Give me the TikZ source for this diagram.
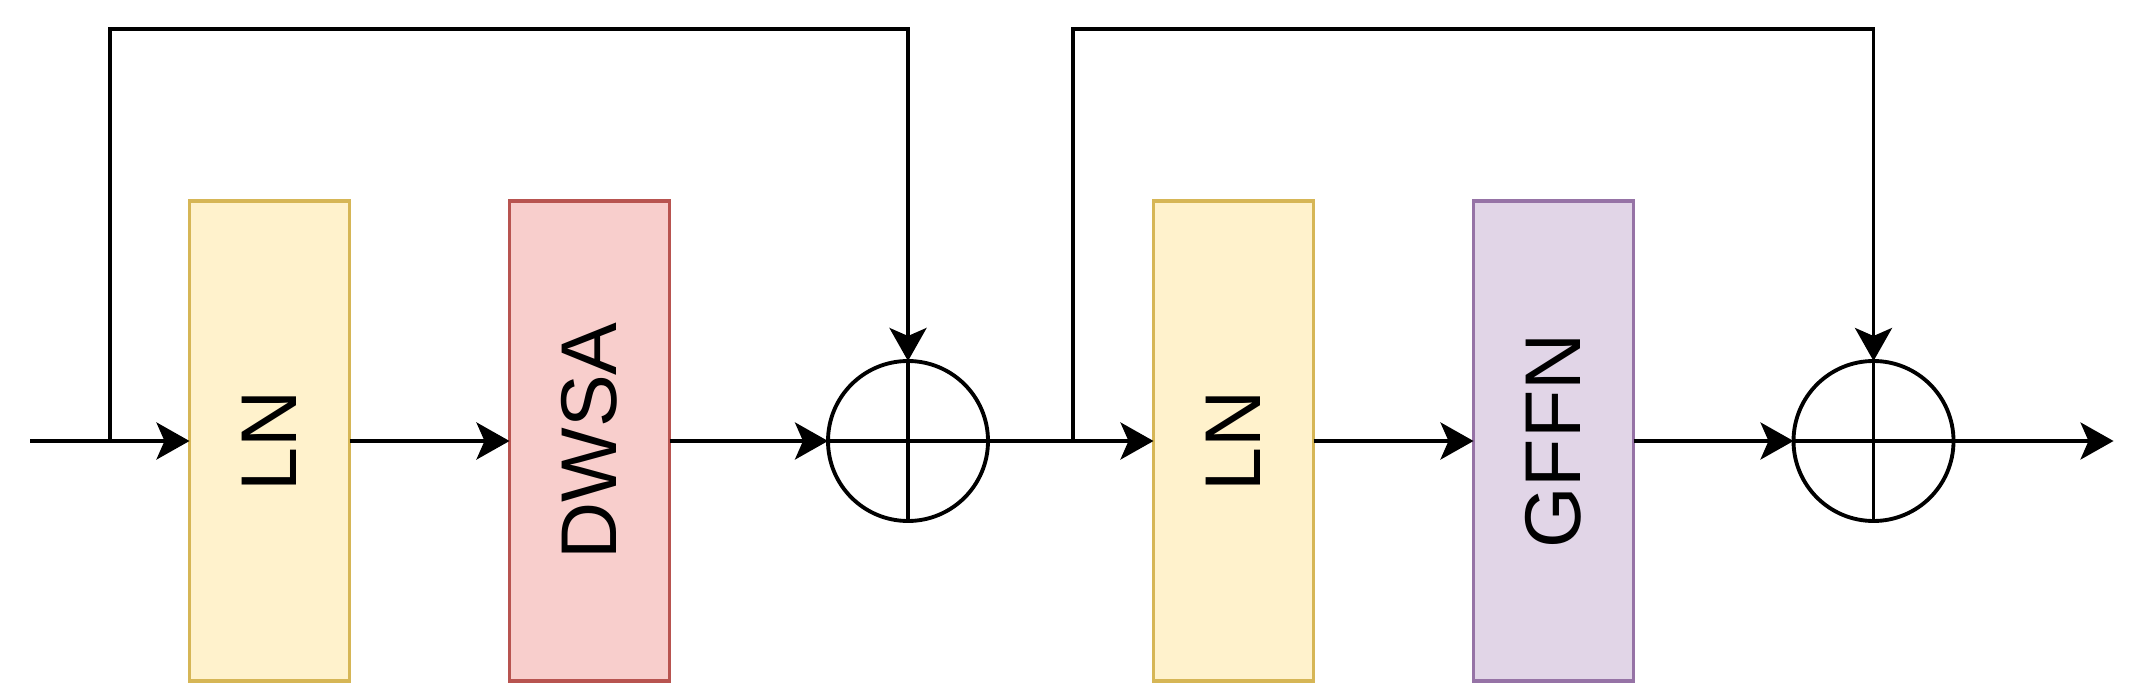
\documentclass[tikz,border=0pt]{standalone}
\usepackage{fontspec}
\setmainfont{Liberation Sans}
\usetikzlibrary{arrows.meta,positioning,calc}
\usepackage{xcolor}
\definecolor{lnfill}{HTML}{FFF2CC}
\definecolor{lnline}{HTML}{D6B656}
\definecolor{safill}{HTML}{F8CECC}
\definecolor{saline}{HTML}{B85450}
\definecolor{fnfill}{HTML}{E1D5E7}
\definecolor{fnline}{HTML}{9673A6}

\begin{document}
\begin{tikzpicture}[
  node distance=1.6cm,
  block/.style={rectangle, draw, line width=1.1pt, minimum width=1.6cm, minimum height=4.8cm, inner sep=0pt,
    outer sep=0pt, font=\fontsize{22.5}{27}\selectfont},
  addop/.style={circle, draw, line width=1.1pt, minimum size=1.6cm, inner sep=0pt, outer sep=0pt},
  arrow/.style={-{Stealth[length=0.33cm, width=0.37cm, inset=0.08cm]}, line width=1.1pt}
]
  \useasboundingbox (0,0) rectangle (21.48,6.84);
  \coordinate (in) at (0.30,2.43);
  \coordinate (tapA) at (1.10,2.43);
  \node[block, fill=lnfill, draw=lnline] (lnA) at (2.695,2.43) {\rotatebox{90}{LN}};
  \node[block, fill=safill, draw=saline, right=of lnA] (dwsa) {\rotatebox{90}{DWSA}};
  \node[addop, right=1.585cm of dwsa] (addA) {};
  \coordinate (tapB) at (10.73,2.43);
  \node[block, fill=lnfill, draw=lnline, right=1.655cm of addA] (lnB) {\rotatebox{90}{LN}};
  \node[block, fill=fnfill, draw=fnline, right=of lnB] (gffn) {\rotatebox{90}{GFFN}};
  \node[addop, right=of gffn] (addB) {};
  \coordinate[right=of addB] (out);
  % plus signs
  \draw[line width=1.1pt] (addA.north) -- (addA.south) (addA.west) -- (addA.east);
  \draw[line width=1.1pt] (addB.north) -- (addB.south) (addB.west) -- (addB.east);
  % main path
  \draw[arrow] (in) -- (lnA);
  \draw[arrow] (lnA) -- (dwsa);
  \draw[arrow] (dwsa) -- (addA.west);
  \draw[arrow] (addA.east) -- (lnB);
  \draw[arrow] (lnB) -- (gffn);
  \draw[arrow] (gffn) -- (addB.west);
  \draw[arrow] (addB.east) -- (out);
  % skip connections
  \draw[arrow] (tapA) -- ++(0,4.12) -| (addA.north);
  \draw[arrow] (tapB) -- ++(0,4.12) -| (addB.north);
\end{tikzpicture}
\end{document}
